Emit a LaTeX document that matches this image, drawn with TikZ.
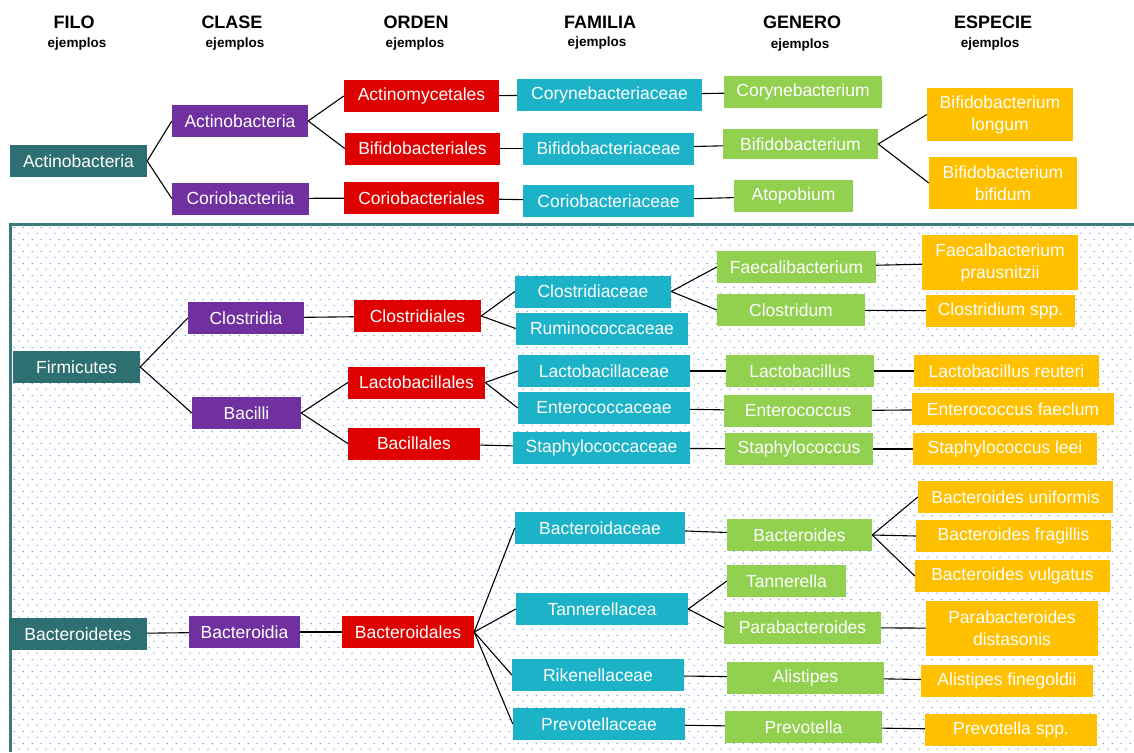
\documentclass[tikz,border=0pt]{standalone}
\usepackage{fontspec}
\setmainfont{Liberation Sans}
\usepackage{tikz}
\usetikzlibrary{patterns}

\definecolor{filoC}{HTML}{2E7071}
\definecolor{claseC}{HTML}{7030A0}
\definecolor{ordenC}{HTML}{DF0000}
\definecolor{familiaC}{HTML}{1CB2C8}
\definecolor{generoC}{HTML}{92D050}
\definecolor{especieC}{HTML}{FFC000}
\definecolor{marcoC}{HTML}{3B7A7C}
\definecolor{puntoC}{HTML}{5F8FE0}

\pgfdeclarepatternformonly{puntos}{\pgfpointorigin}{\pgfpoint{8.6pt}{11.6pt}}{\pgfpoint{8.6pt}{11.6pt}}{%
  \pgfpathcircle{\pgfpoint{2.15pt}{2.9pt}}{0.7pt}
  \pgfpathcircle{\pgfpoint{6.45pt}{8.7pt}}{0.7pt}
  \pgfusepath{fill}}

\begin{document}
\begin{tikzpicture}[x=1pt,y=-1pt,
  taxon/.style={rectangle,inner sep=0pt,minimum height=32pt,text=white,align=center,font=\fontsize{17.5}{22}\selectfont},
  filo/.style={taxon,fill=filoC},
  clase/.style={taxon,fill=claseC},
  orden/.style={taxon,fill=ordenC},
  familia/.style={taxon,fill=familiaC},
  genero/.style={taxon,fill=generoC},
  especie/.style={taxon,fill=especieC},
  rama/.style={line width=1.1pt,black},
  titulo/.style={font=\bfseries\fontsize{18}{20}\selectfont},
  ejemplo/.style={font=\bfseries\fontsize{13.5}{16}\selectfont}]
  \useasboundingbox (0,0) rectangle (1134,752);

  % fondo punteado y marco
  \fill[pattern=puntos,pattern color=puntoC] (11,225) rectangle (1134,752);
  \draw[marcoC,line width=3pt] (10,752) -- (10,224) -- (1134,224);

  % cabeceras
  \draw (74,22) node[titulo] (FILO) {FILO};
  \draw (77,44) node[ejemplo] (ej-filo) {ejemplos};
  \draw (232,22) node[titulo] (CLASE) {CLASE};
  \draw (235,44) node[ejemplo] (ej-clase) {ejemplos};
  \draw (416,22) node[titulo] (ORDEN) {ORDEN};
  \draw (415,44) node[ejemplo] (ej-orden) {ejemplos};
  \draw (600,22) node[titulo] (FAMILIA) {FAMILIA};
  \draw (597,43) node[ejemplo] (ej-familia) {ejemplos};
  \draw (802,22) node[titulo] (GENERO) {GENERO};
  \draw (800,45) node[ejemplo] (ej-genero) {ejemplos};
  \draw (993,22) node[titulo] (ESPECIE) {ESPECIE};
  \draw (990,44) node[ejemplo] (ej-especie) {ejemplos};

  % Actinobacteria
  \draw (78.5,161) node[filo,minimum width=137] (Actinobacteria-f) {Actinobacteria};
  \draw (240,121) node[clase,minimum width=136] (Actinobacteria-c) {Actinobacteria};
  \draw (240.5,198.5) node[clase,minimum width=137] (Coriobacteriia) {Coriobacteriia};
  \draw (421.5,96) node[orden,minimum width=155] (Actinomycetales) {Actinomycetales};
  \draw (422.5,148.5) node[orden,minimum width=155] (Bifidobacteriales) {Bifidobacteriales};
  \draw (421.5,198) node[orden,minimum width=155] (Coriobacteriales) {Coriobacteriales};
  \draw (609.5,95) node[familia,minimum width=185] (Corynebacteriaceae) {Corynebacteriaceae};
  \draw (608.5,148.5) node[familia,minimum width=171] (Bifidobacteriaceae) {Bifidobacteriaceae};
  \draw (608.5,201) node[familia,minimum width=171] (Coriobacteriaceae) {Coriobacteriaceae};
  \draw (803,92) node[genero,minimum width=158] (Corynebacterium) {Corynebacterium};
  \draw (800.5,144) node[genero,minimum width=155,minimum height=30] (Bifidobacterium) {Bifidobacterium};
  \draw (793.5,196) node[genero,minimum width=119] (Atopobium) {Atopobium};
  \draw (1000,114.5) node[especie,minimum width=146,minimum height=53] (B-longum) {Bifidobacterium\\longum};
  \draw (1003,183) node[especie,minimum width=148,minimum height=52] (B-bifidum) {Bifidobacterium\\bifidum};

  \path[rama] (Actinobacteria-f.east) edge (Actinobacteria-c.west) edge (Coriobacteriia.west);
  \path[rama] (Actinobacteria-c.east) edge (Actinomycetales.west) edge (Bifidobacteriales.west);
  \path[rama] (Coriobacteriia) edge (Coriobacteriales);
  \path[rama] (Actinomycetales) edge (Corynebacteriaceae);
  \path[rama] (Bifidobacteriales) edge (Bifidobacteriaceae);
  \path[rama] (Coriobacteriales) edge (Coriobacteriaceae);
  \path[rama] (Corynebacteriaceae) edge (Corynebacterium);
  \path[rama] (Bifidobacteriaceae) edge (Bifidobacterium);
  \path[rama] (Coriobacteriaceae) edge (Atopobium);
  \path[rama] (Bifidobacterium.east) edge (B-longum.west) edge (B-bifidum.west);

  % Firmicutes
  \draw (76.5,367) node[filo,minimum width=127] (Firmicutes) {Firmicutes};
  \draw (246,318) node[clase,minimum width=116] (Clostridia) {Clostridia};
  \draw (246.5,413) node[clase,minimum width=109] (Bacilli) {Bacilli};
  \draw (417.5,316) node[orden,minimum width=127] (Clostridiales) {Clostridiales};
  \draw (416.5,382.5) node[orden,minimum width=137] (Lactobacillales) {Lactobacillales};
  \draw (414,443.5) node[orden,minimum width=132] (Bacillales) {Bacillales};
  \draw (593,291.5) node[familia,minimum width=156] (Clostridiaceae) {Clostridiaceae};
  \draw (602,328.5) node[familia,minimum width=172] (Ruminococcaceae) {Ruminococcaceae};
  \draw (604,371) node[familia,minimum width=172] (Lactobacillaceae) {Lactobacillaceae};
  \draw (604,408) node[familia,minimum width=172] (Enterococcaceae) {Enterococcaceae};
  \draw (601.5,448) node[familia,minimum width=177] (Staphylococcaceae) {Staphylococcaceae};
  \draw (796.5,267) node[genero,minimum width=159] (Faecalibacterium) {Faecalibacterium};
  \draw (791,310) node[genero,minimum width=148] (Clostridum) {Clostridum};
  \draw (800,371) node[genero,minimum width=148] (Lactobacillus) {Lactobacillus};
  \draw (798,411) node[genero,minimum width=148] (Enterococcus) {Enterococcus};
  \draw (799,449) node[genero,minimum width=148] (Staphylococcus) {Staphylococcus};
  \draw (1000,262.5) node[especie,minimum width=156,minimum height=55] (F-prausnitzii) {Faecalbacterium\\prausnitzii};
  \draw (1000.5,311) node[especie,minimum width=149] (C-spp) {Clostridium spp.};
  \draw (1006.5,371) node[especie,minimum width=185] (L-reuteri) {Lactobacillus reuteri};
  \draw (1013,409) node[especie,minimum width=202] (E-faeclum) {Enterococcus faeclum};
  \draw (1005,449) node[especie,minimum width=184] (S-leei) {Staphylococcus leei};

  \path[rama] (Firmicutes.east) edge (Clostridia.west) edge (Bacilli.west);
  \path[rama] (Clostridia) edge (Clostridiales);
  \path[rama] (Bacilli.east) edge (Lactobacillales.west) edge (Bacillales.west);
  \path[rama] (Clostridiales.east) edge (Clostridiaceae.west) edge (Ruminococcaceae.west);
  \path[rama] (Lactobacillales.east) edge (Lactobacillaceae.west) edge (Enterococcaceae.west);
  \path[rama] (Bacillales) edge (Staphylococcaceae);
  \path[rama] (Clostridiaceae.east) edge (Faecalibacterium.west) edge (Clostridum.west);
  \path[rama] (Lactobacillaceae) edge (Lactobacillus);
  \path[rama] (Enterococcaceae) edge (Enterococcus);
  \path[rama] (Staphylococcaceae) edge (Staphylococcus);
  \path[rama] (Faecalibacterium) edge (F-prausnitzii);
  \path[rama] (Clostridum) edge (C-spp);
  \path[rama] (Lactobacillus) edge (L-reuteri);
  \path[rama] (Enterococcus) edge (E-faeclum);
  \path[rama] (Staphylococcus) edge (S-leei);

  % Bacteroidetes
  \draw (78,634) node[filo,minimum width=138] (Bacteroidetes) {Bacteroidetes};
  \draw (244.5,632) node[clase,minimum width=111] (Bacteroidia) {Bacteroidia};
  \draw (408,632) node[orden,minimum width=132] (Bacteroidales) {Bacteroidales};
  \draw (600,528) node[familia,minimum width=170] (Bacteroidaceae) {Bacteroidaceae};
  \draw (602,609) node[familia,minimum width=172] (Tannerellacea) {Tannerellacea};
  \draw (598,675) node[familia,minimum width=172] (Rikenellaceae) {Rikenellaceae};
  \draw (599,724) node[familia,minimum width=172] (Prevotellaceae) {Prevotellaceae};
  \draw (799.5,535) node[genero,minimum width=145] (Bacteroides) {Bacteroides};
  \draw (786.5,581) node[genero,minimum width=119] (Tannerella) {Tannerella};
  \draw (802.5,627.5) node[genero,minimum width=157] (Parabacteroides) {Parabacteroides};
  \draw (805.5,677.5) node[genero,minimum width=157] (Alistipes) {Alistipes};
  \draw (803.5,727) node[genero,minimum width=157] (Prevotella) {Prevotella};
  \draw (1015.5,497) node[especie,minimum width=195] (B-uniformis) {Bacteroides uniformis};
  \draw (1013.5,536) node[especie,minimum width=195] (B-fragillis) {Bacteroides fragillis};
  \draw (1012.5,576) node[especie,minimum width=195] (B-vulgatus) {Bacteroides vulgatus};
  \draw (1012,628.5) node[especie,minimum width=172,minimum height=55] (P-distasonis) {Parabacteroides\\distasonis};
  \draw (1007,681) node[especie,minimum width=172] (A-finegoldii) {Alistipes finegoldii};
  \draw (1011,730) node[especie,minimum width=172] (P-spp) {Prevotella spp.};

  \path[rama] (Bacteroidetes) edge (Bacteroidia);
  \path[rama] (Bacteroidia) edge (Bacteroidales);
  \path[rama] (Bacteroidales.east) edge (Bacteroidaceae.west) edge (Tannerellacea.west)
                                    edge (Rikenellaceae.west) edge (Prevotellaceae.west);
  \path[rama] (Bacteroidaceae) edge (Bacteroides);
  \path[rama] (Tannerellacea.east) edge (Tannerella.west) edge (Parabacteroides.west);
  \path[rama] (Rikenellaceae) edge (Alistipes);
  \path[rama] (Prevotellaceae) edge (Prevotella);
  \path[rama] (Bacteroides.east) edge (B-uniformis.west) edge (B-fragillis.west) edge (B-vulgatus.west);
  \path[rama] (Parabacteroides) edge (P-distasonis);
  \path[rama] (Alistipes) edge (A-finegoldii);
  \path[rama] (Prevotella) edge (P-spp);
\end{tikzpicture}
\end{document}
